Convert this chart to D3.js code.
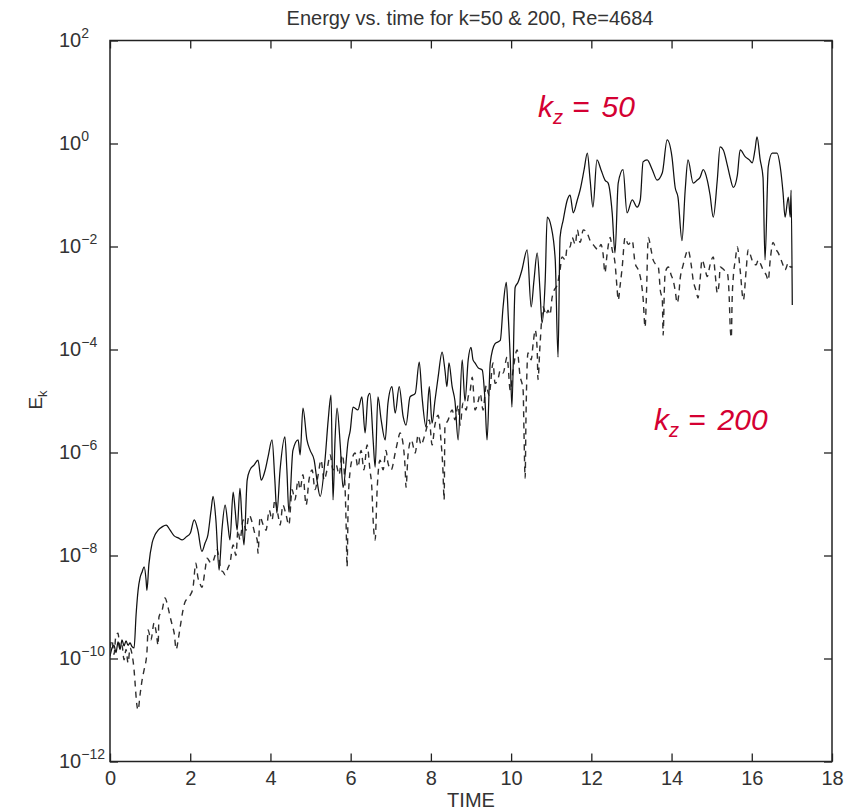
<!DOCTYPE html>
<html>
<head>
<meta charset="utf-8">
<script src="https://cdn.jsdelivr.net/npm/d3@7"></script>
<style>
  html, body { margin: 0; padding: 0; background: #fff; }
  svg { display: block; font-family: "Liberation Sans", Arial, Helvetica, sans-serif; }
</style>
</head>
<body>
<svg id="chart" width="859" height="810"></svg>
<script>
// Kinetic energy history of the two axial wavenumbers, [time, E_k]
const seriesK50 = [
  [0.00,1.1e-10],[0.05,1.6e-10],[0.10,1.8e-10],[0.15,1.3e-10],[0.20,2.1e-10],[0.25,1.5e-10],[0.30,2.3e-10],
  [0.35,1.75e-10],[0.40,2.2e-10],[0.45,1.8e-10],[0.50,2.0e-10],[0.55,1.7e-10],[0.60,1.6e-10],[0.65,7.0e-10],
  [0.70,2.1e-9],[0.75,3.7e-9],[0.80,4.8e-9],[0.85,6.0e-9],[0.90,3.3e-9],[0.92,2.1e-9],[0.97,6.8e-9],
  [1.05,1.75e-8],[1.12,2.5e-8],[1.20,3.1e-8],[1.30,3.6e-8],[1.40,3.9e-8],[1.50,3.1e-8],[1.60,2.4e-8],
  [1.70,2.2e-8],[1.80,2.0e-8],[1.90,2.3e-8],[2.00,2.7e-8],[2.10,4.9e-8],[2.19,3.1e-8],[2.29,1.2e-8],
  [2.37,1.75e-8],[2.44,2.5e-8],[2.52,7.6e-8],[2.57,1.4e-7],[2.64,4.9e-8],[2.72,5.2e-9],[2.79,3.1e-8],
  [2.87,9.5e-8],[2.94,3.9e-8],[2.99,2.0e-8],[3.07,1.7e-7],[3.12,7.6e-8],[3.17,3.1e-8],[3.24,2.0e-7],
  [3.29,4.9e-8],[3.34,1.6e-8],[3.42,2.9e-7],[3.49,4.6e-7],[3.59,5.7e-7],[3.69,7.1e-7],[3.77,2.9e-7],
  [3.87,4.6e-7],[3.94,8.2e-7],[4.04,1.75e-6],[4.11,2.9e-7],[4.16,6.7e-8],[4.24,4.6e-7],[4.36,2.0e-6],
  [4.41,4.6e-7],[4.46,7.0e-8],[4.56,1.1e-6],[4.69,1.75e-6],[4.74,9.0e-7],[4.81,7.3e-6],[4.91,1.75e-6],
  [4.99,1.1e-6],[5.09,7.1e-7],[5.16,2.9e-7],[5.24,1.4e-7],[5.36,7.1e-7],[5.44,4.3e-6],[5.51,1.3e-5],
  [5.56,1.2e-7],[5.61,1.75e-6],[5.66,7.3e-6],[5.74,1.4e-6],[5.81,2.1e-7],[5.94,1.75e-6],[5.99,2.7e-6],
  [6.06,7.6e-6],[6.18,6.7e-6],[6.28,1.2e-5],[6.36,2.4e-6],[6.43,1.2e-5],[6.48,1.4e-5],[6.56,1.75e-6],
  [6.61,5.2e-7],[6.68,1.2e-5],[6.76,4.3e-6],[6.86,1.75e-6],[6.93,9.1e-6],[7.03,1.9e-5],[7.11,5.8e-6],
  [7.21,1.9e-5],[7.31,4.9e-6],[7.38,3.4e-6],[7.48,1.2e-5],[7.61,1.4e-5],[7.71,5.7e-5],[7.78,1.2e-5],
  [7.88,3.1e-6],[7.96,1.9e-5],[8.03,3.7e-6],[8.10,1.0e-5],[8.18,2.9e-5],[8.28,8.9e-5],[8.35,4.0e-5],
  [8.40,1.9e-5],[8.45,5.5e-5],[8.53,1.9e-5],[8.60,1.0e-5],[8.68,1.75e-6],[8.78,6.3e-5],[8.85,1.0e-5],
  [8.93,6.3e-5],[9.00,1.1e-4],[9.05,6.3e-5],[9.10,5.5e-5],[9.18,4.4e-5],[9.28,4.0e-5],[9.35,1.0e-5],
  [9.40,1.75e-6],[9.48,5.5e-5],[9.60,1.3e-4],[9.73,1.5e-4],[9.80,6.7e-4],[9.88,2.0e-3],[9.93,4.3e-4],
  [9.98,6.3e-5],[10.02,7.6e-6],[10.10,1.6e-3],[10.17,2.0e-3],[10.27,3.5e-3],[10.40,8.6e-3],[10.50,6.7e-4],
  [10.57,2.2e-3],[10.65,7.5e-3],[10.72,1.4e-3],[10.77,3.3e-4],[10.85,2.2e-3],[10.90,3.7e-2],[11.00,2.4e-2],
  [11.10,5.5e-3],[11.17,7.1e-5],[11.22,1.5e-2],[11.30,3.3e-2],[11.40,8.0e-2],[11.47,0.10],[11.55,4.5e-2],
  [11.65,8.0e-2],[11.72,0.125],[11.82,0.31],[11.90,0.65],[11.97,0.195],[12.04,5.8e-2],[12.14,0.48],
  [12.24,0.31],[12.34,0.195],[12.42,0.17],[12.52,4.5e-2],[12.59,7.5e-3],[12.67,0.17],[12.79,0.31],
  [12.89,4.5e-2],[13.02,8.0e-2],[13.14,5.8e-2],[13.22,8.0e-2],[13.29,0.44],[13.39,0.48],[13.52,0.31],
  [13.64,0.195],[13.77,0.27],[13.89,1.17],[14.01,0.55],[14.09,0.14],[14.16,9.1e-2],[14.26,1.3e-2],
  [14.34,0.125],[14.41,0.48],[14.54,0.17],[14.64,0.195],[14.71,0.22],[14.79,0.31],[14.89,0.195],
  [14.96,0.10],[15.04,3.7e-2],[15.14,0.195],[15.21,0.86],[15.29,0.75],[15.39,0.38],[15.46,0.22],
  [15.54,0.14],[15.64,0.24],[15.71,0.75],[15.84,0.55],[15.94,0.48],[16.01,0.42],[16.08,0.75],
  [16.13,1.34],[16.21,0.48],[16.28,0.22],[16.33,5.5e-3],[16.41,0.35],[16.51,0.65],[16.63,0.65],
  [16.71,0.35],[16.78,0.11],[16.83,3.7e-2],[16.91,9.1e-2],[16.96,3.7e-2],[16.98,0.125],[17.01,7.3e-4]
];

const seriesK200 = [
  [0.00,1.6e-10],[0.05,2.3e-10],[0.10,1.2e-10],[0.15,2.9e-10],[0.20,3.1e-10],[0.25,1.5e-10],[0.30,1.8e-10],
  [0.35,9.4e-11],[0.40,1.5e-10],[0.45,8.2e-11],[0.50,1.6e-10],[0.55,1.2e-10],[0.60,6.0e-11],[0.62,3.8e-11],
  [0.67,1.25e-11],[0.70,1.0e-11],[0.75,2.0e-11],[0.80,3.8e-11],[0.85,6.0e-11],[0.92,1.3e-10],[0.95,3.6e-10],
  [1.02,2.3e-10],[1.10,4.9e-10],[1.15,3.3e-10],[1.20,1.8e-10],[1.22,6.4e-10],[1.30,8.7e-10],[1.37,1.5e-9],
  [1.45,9.6e-10],[1.50,6.4e-10],[1.55,4.5e-10],[1.60,3.1e-10],[1.65,1.5e-10],[1.70,2.3e-10],[1.75,4.1e-10],
  [1.82,8.7e-10],[1.87,1.25e-9],[1.95,1.5e-9],[2.00,1.7e-9],[2.07,2.4e-9],[2.14,7.1e-9],[2.19,3.8e-9],
  [2.24,2.9e-9],[2.29,2.4e-9],[2.37,5.2e-9],[2.42,8.9e-9],[2.49,7.5e-9],[2.54,7.1e-9],[2.62,1.0e-8],
  [2.67,1.3e-8],[2.72,8.2e-9],[2.77,5.2e-9],[2.82,4.8e-9],[2.87,4.2e-9],[2.94,5.7e-9],[2.99,7.1e-9],
  [3.07,1.6e-8],[3.14,1.0e-8],[3.19,3.1e-8],[3.24,2.0e-8],[3.32,4.9e-8],[3.39,3.1e-8],[3.47,6.1e-8],
  [3.54,4.5e-8],[3.62,2.5e-8],[3.67,2.0e-8],[3.69,1.1e-8],[3.74,5.6e-8],[3.82,3.9e-8],[3.89,3.1e-8],
  [3.97,7.6e-8],[4.04,4.9e-8],[4.11,1.2e-7],[4.19,6.1e-8],[4.24,3.9e-8],[4.31,9.5e-8],[4.39,6.1e-8],
  [4.46,3.9e-8],[4.54,1.9e-7],[4.61,1.2e-7],[4.69,2.9e-7],[4.74,1.9e-7],[4.81,3.7e-7],[4.89,9.5e-8],
  [4.96,2.9e-7],[5.04,4.6e-7],[5.11,1.9e-7],[5.19,3.7e-7],[5.26,7.1e-7],[5.34,2.9e-7],[5.41,4.6e-7],
  [5.49,9.0e-7],[5.56,4.6e-7],[5.64,5.7e-7],[5.71,3.7e-7],[5.79,9.0e-7],[5.86,2.1e-7],[5.89,3.1e-8],
  [5.91,6.0e-9],[5.94,1.2e-7],[5.99,4.6e-7],[6.03,7.1e-7],[6.11,9.8e-7],[6.18,5.2e-7],[6.26,1.1e-6],
  [6.33,4.6e-7],[6.41,1.4e-6],[6.48,4.6e-7],[6.53,1.9e-7],[6.56,4.9e-8],[6.61,2.0e-8],[6.66,1.9e-7],
  [6.73,7.1e-7],[6.81,4.6e-7],[6.88,1.1e-6],[6.93,6.3e-7],[7.01,4.6e-7],[7.11,9.8e-7],[7.18,1.75e-6],
  [7.23,2.4e-6],[7.31,1.4e-6],[7.36,4.6e-7],[7.38,2.1e-7],[7.43,9.0e-7],[7.51,1.75e-6],[7.61,9.8e-7],
  [7.68,2.2e-6],[7.76,1.4e-6],[7.81,1.75e-6],[7.88,2.7e-6],[7.96,4.3e-6],[8.03,1.4e-6],[8.10,3.4e-6],
  [8.18,5.3e-6],[8.25,1.75e-6],[8.30,4.6e-7],[8.33,1.2e-7],[8.35,3.1e-6],[8.43,4.3e-6],[8.53,6.7e-6],
  [8.60,4.3e-6],[8.68,8.4e-6],[8.73,3.4e-6],[8.80,9.1e-6],[8.88,6.7e-6],[8.93,1.2e-5],[8.98,1.6e-5],
  [9.03,2.9e-5],[9.10,6.7e-6],[9.18,1.0e-5],[9.23,1.4e-5],[9.30,6.7e-6],[9.38,2.0e-5],[9.45,1.3e-5],
  [9.55,5.5e-5],[9.60,2.2e-5],[9.68,2.8e-5],[9.73,4.0e-5],[9.80,3.5e-5],[9.90,7.1e-5],[9.98,1.6e-5],
  [10.05,4.0e-5],[10.15,9.8e-5],[10.22,3.2e-5],[10.30,1.6e-5],[10.32,2.7e-6],[10.35,3.2e-7],[10.37,4.3e-6],
  [10.42,8.6e-5],[10.50,6.3e-5],[10.55,1.3e-4],[10.60,2.4e-4],[10.65,9.8e-5],[10.67,2.6e-5],[10.72,1.2e-4],
  [10.80,6.7e-4],[10.87,4.7e-4],[10.92,5.8e-4],[10.97,4.7e-4],[11.02,1.0e-3],[11.07,1.4e-3],[11.15,1.8e-3],
  [11.22,3.5e-3],[11.27,6.3e-3],[11.35,5.5e-3],[11.40,9.8e-3],[11.47,9.8e-3],[11.52,1.5e-2],[11.60,1.1e-2],
  [11.65,2.1e-2],[11.72,1.2e-2],[11.80,2.1e-2],[11.90,1.8e-2],[11.97,1.3e-2],[12.04,1.1e-2],[12.09,9.8e-3],
  [12.17,8.6e-3],[12.24,1.1e-2],[12.29,7.5e-3],[12.34,3.1e-3],[12.39,6.8e-3],[12.47,1.5e-2],[12.52,8.6e-3],
  [12.59,4.8e-3],[12.64,1.6e-3],[12.67,9.1e-4],[12.72,1.8e-3],[12.77,4.0e-3],[12.84,1.5e-2],[12.92,1.1e-2],
  [13.02,1.3e-2],[13.09,4.8e-3],[13.17,3.5e-3],[13.22,2.6e-3],[13.29,1.0e-3],[13.34,2.7e-4],[13.37,9.1e-4],
  [13.42,1.5e-2],[13.49,8.6e-3],[13.54,5.5e-3],[13.62,4.4e-3],[13.67,4.0e-3],[13.72,1.4e-3],[13.77,9.1e-4],
  [13.79,1.9e-4],[13.82,1.4e-3],[13.84,3.1e-3],[13.92,4.0e-3],[13.99,2.8e-3],[14.04,2.2e-3],[14.09,1.4e-3],
  [14.14,8.0e-4],[14.19,1.4e-3],[14.21,2.2e-3],[14.29,4.4e-3],[14.34,6.3e-3],[14.41,8.6e-3],[14.49,4.4e-3],
  [14.54,2.2e-3],[14.61,1.4e-3],[14.66,1.0e-3],[14.71,2.2e-3],[14.76,5.5e-3],[14.84,3.5e-3],[14.89,2.6e-3],
  [14.96,4.4e-3],[15.04,6.3e-3],[15.09,2.8e-3],[15.14,1.25e-3],[15.19,2.2e-3],[15.21,4.0e-3],[15.31,3.5e-3],
  [15.39,3.1e-3],[15.44,9.1e-4],[15.46,3.0e-4],[15.49,1.7e-4],[15.51,9.1e-4],[15.54,2.6e-3],[15.59,5.5e-3],
  [15.64,9.8e-3],[15.71,3.5e-3],[15.79,9.1e-4],[15.86,3.5e-3],[15.91,8.6e-3],[15.99,6.0e-3],[16.03,4.8e-3],
  [16.11,4.4e-3],[16.16,5.5e-3],[16.23,4.4e-3],[16.28,3.5e-3],[16.36,2.8e-3],[16.41,2.2e-3],[16.46,5.5e-3],
  [16.53,1.2e-2],[16.61,8.6e-3],[16.66,7.5e-3],[16.71,6.0e-3],[16.76,4.8e-3],[16.83,3.5e-3],[16.91,4.8e-3],
  [16.96,4.0e-3],[17.01,4.0e-3]
];

const timeTicks = [0, 2, 4, 6, 8, 10, 12, 14, 16, 18];
const energyTicks = [1e-12, 1e-10, 1e-8, 1e-6, 1e-4, 1e-2, 1e0, 1e2];

const titleText = "Energy vs. time for k=50 & 200, Re=4684";
const xLabel = "TIME";
const labelK50 = "50";
const labelK200 = "200";

const svg = d3.select("#chart");
const plot = { left: 110, right: 832, top: 40.5, bottom: 761.5 };
const font = '"Liberation Sans", Arial, Helvetica, sans-serif';
const red = "#d40032";

const x = d3.scaleLinear().domain([0, 18]).range([plot.left, plot.right]);
const y = d3.scaleLog().domain([1e-12, 1e2]).range([plot.bottom, plot.top]);

// Clip region for the data curves
svg.append("defs").append("clipPath").attr("id", "plot-clip")
  .append("rect")
  .attr("x", plot.left).attr("y", plot.top)
  .attr("width", plot.right - plot.left).attr("height", plot.bottom - plot.top);

const line = d3.line()
  .x(d => x(d[0]))
  .y(d => y(d[1]))
  .curve(d3.curveMonotoneX);

const curves = svg.append("g").attr("clip-path", "url(#plot-clip)");

curves.append("path")
  .datum(seriesK200)
  .attr("d", line)
  .attr("fill", "none")
  .attr("stroke", "#2e2e2e")
  .attr("stroke-width", 1.4)
  .attr("stroke-dasharray", "6,5")
  .attr("stroke-linejoin", "round");

curves.append("path")
  .datum(seriesK50)
  .attr("d", line)
  .attr("fill", "none")
  .attr("stroke", "#111")
  .attr("stroke-width", 1.25)
  .attr("stroke-linejoin", "round");

// Axes: inward ticks on all four sides
const styleAxis = g => {
  g.select(".domain").remove();
  g.selectAll(".tick line").attr("stroke", "#222").attr("stroke-width", 1.3);
  g.selectAll(".tick text").attr("fill", "#333").style("font-family", font).style("font-size", "20px");
};

svg.append("g")
  .attr("transform", `translate(0,${plot.bottom})`)
  .call(d3.axisBottom(x).tickValues(timeTicks).tickSizeInner(-8).tickSizeOuter(0).tickFormat(d3.format("d")))
  .call(styleAxis)
  .call(g => g.selectAll(".tick text").attr("y", 9).attr("dy", "0.71em"));

svg.append("g")
  .attr("transform", `translate(0,${plot.top})`)
  .call(d3.axisTop(x).tickValues(timeTicks).tickSizeInner(-8).tickSizeOuter(0).tickFormat(""))
  .call(styleAxis);

svg.append("g")
  .attr("transform", `translate(${plot.left},0)`)
  .call(d3.axisLeft(y).tickValues(energyTicks).tickSizeInner(-8).tickSizeOuter(0))
  .call(styleAxis)
  .call(g => {
    g.selectAll(".tick text").each(function (d) {
      const exp = Math.round(Math.log10(d));
      const t = d3.select(this).text(null)
        .attr("text-anchor", "start")
        .attr("x", 59 - plot.left)
        .attr("dy", "0.32em");
      t.append("tspan").text("10");
      t.append("tspan")
        .attr("dy", -9)
        .style("font-size", "14px")
        .text(exp < 0 ? "\u2212" + Math.abs(exp) : String(exp));
    });
  });

svg.append("g")
  .attr("transform", `translate(${plot.right},0)`)
  .call(d3.axisRight(y).tickValues(energyTicks).tickSizeInner(-8).tickSizeOuter(0).tickFormat(""))
  .call(styleAxis);

// Frame
svg.append("rect")
  .attr("x", plot.left).attr("y", plot.top)
  .attr("width", plot.right - plot.left).attr("height", plot.bottom - plot.top)
  .attr("fill", "none").attr("stroke", "#222").attr("stroke-width", 1.5);

// Title and axis labels
svg.append("text")
  .attr("x", 470).attr("y", 25)
  .attr("text-anchor", "middle")
  .attr("fill", "#333")
  .style("font-family", font).style("font-size", "20px")
  .text(titleText);

svg.append("text")
  .attr("x", 471).attr("y", 807)
  .attr("text-anchor", "middle")
  .attr("fill", "#333")
  .style("font-family", font).style("font-size", "20px")
  .text(xLabel);

const yLab = svg.append("text")
  .attr("transform", "translate(42,400) rotate(-90)")
  .attr("text-anchor", "middle")
  .attr("fill", "#333")
  .style("font-family", font).style("font-size", "19px");
yLab.append("tspan").text("E");
yLab.append("tspan").attr("dy", 5).style("font-size", "13px").text("k");

// Wavenumber annotations
function kLabel(px, py, value) {
  const t = svg.append("text")
    .attr("x", px).attr("y", py)
    .attr("fill", red)
    .style("font-family", font)
    .style("font-style", "italic")
    .style("font-size", "30px");
  t.append("tspan").text("k");
  t.append("tspan").attr("dy", 7).style("font-size", "20px").text("z");
  t.append("tspan").attr("dy", -7).attr("dx", 9).text("=");
  t.append("tspan").attr("dx", 12).text(value);
}
kLabel(538, 117, labelK50);
kLabel(654, 430, labelK200);
</script>
</body>
</html>
